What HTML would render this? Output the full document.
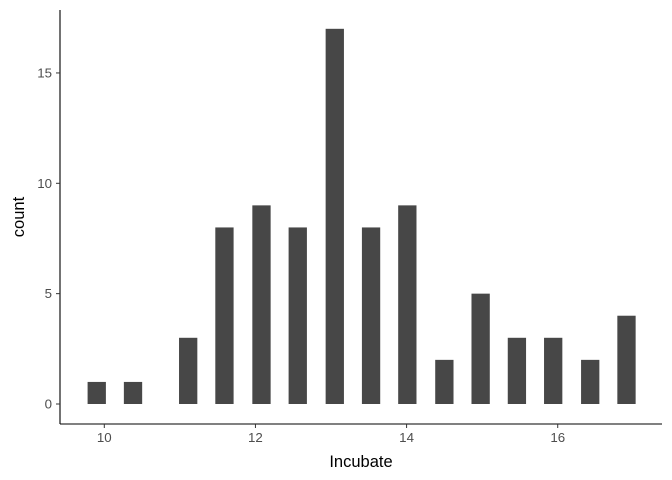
<!DOCTYPE html>
<html><head><meta charset="utf-8"><style>
body{margin:0;background:#fff;}
svg{display:block;font-family:"Liberation Sans",Arial,sans-serif;}
</style></head><body>
<svg id="chart" width="672" height="480"></svg>
<script>
const binCenters=[9.90,10.38,11.11,11.59,12.08,12.56,13.05,13.53,14.01,14.50,14.98,15.46,15.94,16.43,16.91];
const counts=[1,1,3,8,9,8,17,8,9,2,5,3,3,2,4];
const xTicks=[10,12,14,16];
const yTicks=[0,5,10,15];
const NS="http://www.w3.org/2000/svg";
const svg=document.getElementById('chart');
const xs=v=>104.3+(v-10)*75.57;
const ys=v=>404-v*22.07;
const barW=18.3;
function mk(t,a){const e=document.createElementNS(NS,t);for(const k in a)e.setAttribute(k,a[k]);svg.appendChild(e);return e;}
binCenters.forEach((c,i)=>{
 const r=mk('rect',{x:xs(c)-barW/2,y:ys(counts[i]),width:barW,height:ys(0)-ys(counts[i]),fill:'#474747'});
 
 
});
const ya=mk('line',{x1:60,y1:10,x2:60,y2:424,stroke:'#000','stroke-width':1.1});


const xa=mk('line',{x1:60,y1:424,x2:662,y2:424,stroke:'#000','stroke-width':1.1});


yTicks.forEach(v=>{
 mk('line',{x1:56,y1:ys(v),x2:60,y2:ys(v),stroke:'#333'});
 const t=mk('text',{x:52,y:ys(v)+4.5,'text-anchor':'end','font-size':13.3,fill:'#4d4d4d'});
 t.textContent=v;
 
 
});
xTicks.forEach(v=>{
 mk('line',{x1:xs(v),y1:424,x2:xs(v),y2:428,stroke:'#333'});
 const t=mk('text',{x:xs(v),y:442,'text-anchor':'middle','font-size':13.3,fill:'#4d4d4d'});
 t.textContent=v;
 
 
});
const xt=mk('text',{x:361,y:467,'text-anchor':'middle','font-size':16.5,fill:'#000'});
xt.textContent='Incubate';


const yt=mk('text',{x:0,y:0,'text-anchor':'middle','font-size':16.5,fill:'#000',transform:'translate(24,217) rotate(-90)'});
yt.textContent='count';


</script>
</body></html>
